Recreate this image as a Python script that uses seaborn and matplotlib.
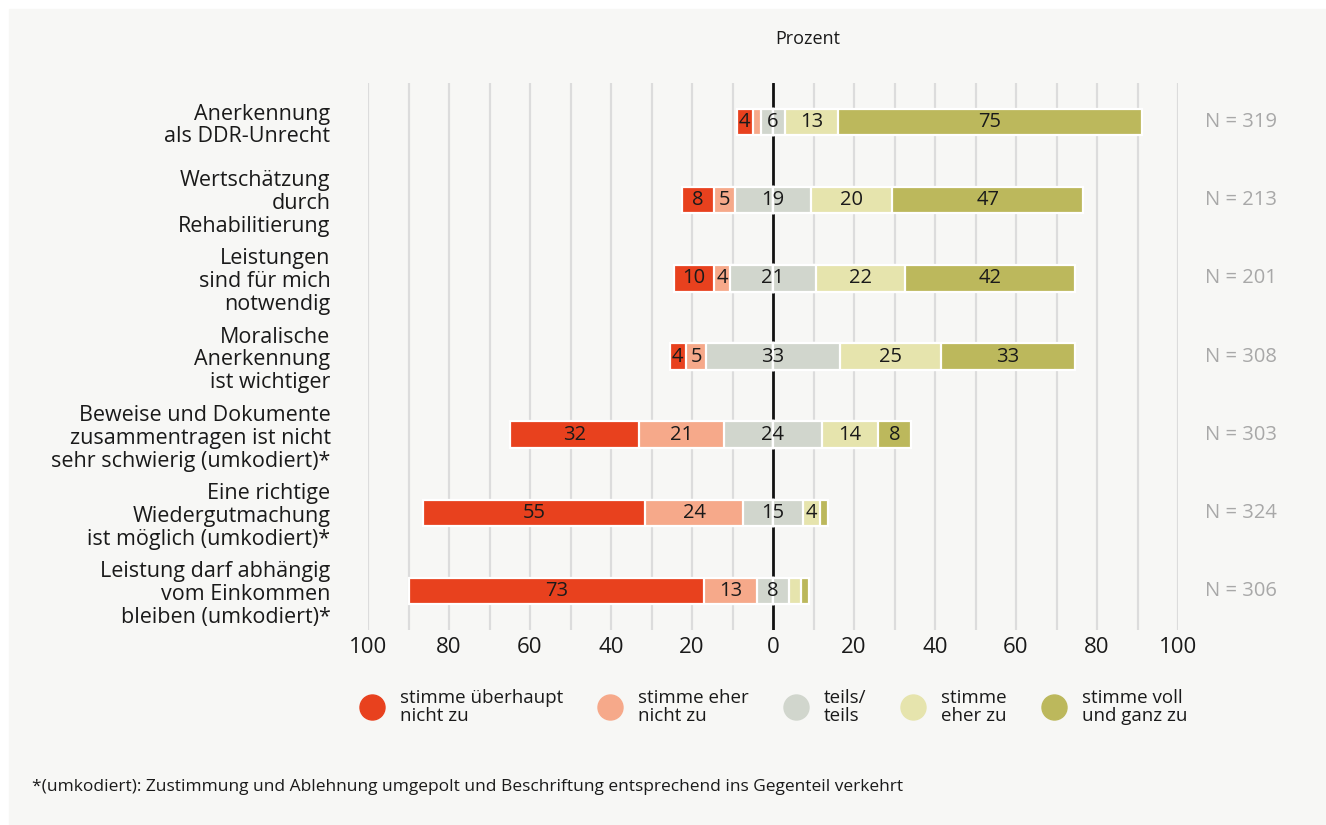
import numpy as np
import pandas as pd
import seaborn as sns
import matplotlib.pyplot as plt
from matplotlib.lines import Line2D
from matplotlib.patches import Rectangle

categories = [
    "Anerkennung\nals DDR-Unrecht",
    "Wertschätzung\ndurch\nRehabilitierung",
    "Leistungen\nsind für mich\nnotwendig",
    "Moralische\nAnerkennung\nist wichtiger",
    "Beweise und Dokumente\nzusammentragen ist nicht\nsehr schwierig (umkodiert)*",
    "Eine richtige\nWiedergutmachung\nist möglich (umkodiert)*",
    "Leistung darf abhängig\nvom Einkommen\nbleiben (umkodiert)*",
]
stimme_ueberhaupt_nicht = [4, 8, 10, 4, 32, 55, 73]
stimme_eher_nicht = [2, 5, 4, 5, 21, 24, 13]
teils_teils = [6, 19, 21, 33, 24, 15, 8]
stimme_eher_zu = [13, 20, 22, 25, 14, 4, 3]
stimme_voll = [75, 47, 42, 33, 8, 2, 2]
n_labels = ["N = 319", "N = 213", "N = 201", "N = 308", "N = 303", "N = 324", "N = 306"]
xticks = [-100, -80, -60, -40, -20, 0, 20, 40, 60, 80, 100]
xticklabels = ["100", "80", "60", "40", "20", "0", "20", "40", "60", "80", "100"]
legend_labels = ["stimme überhaupt\nnicht zu", "stimme eher\nnicht zu", "teils/\nteils",
                 "stimme\neher zu", "stimme voll\nund ganz zu"]
colors = ["#e8411e", "#f6a98a", "#d1d6cd", "#e6e4ad", "#bcb85c"]

sns.set_theme(style="white")
plt.rcParams["font.family"] = ["Open Sans", "DejaVu Sans"]
BG = "#f7f7f5"
TXT = "#1a1a1a"

fig = plt.figure(figsize=(13.26, 8.25), dpi=100)
fig.patch.set_facecolor("white")
fig.patches.append(Rectangle((9 / 1326, 0), 1 - 9 / 1326, 1 - 9 / 825,
                             transform=fig.transFigure, color=BG, zorder=-10))
ax = fig.add_axes([368 / 1326, 1 - 630 / 825, 810 / 1326, 547 / 825])
ax.set_facecolor(BG)

df = pd.DataFrame({
    "cat": categories,
    "r": stimme_ueberhaupt_nicht, "p": stimme_eher_nicht, "n": teils_teils,
    "y": stimme_eher_zu, "g": stimme_voll,
})
half = df["n"] / 2
layers = [
    (-(half + df["p"] + df["r"]), colors[0]),
    (-(half + df["p"]), colors[1]),
    (-half, colors[2]),
    (half + df["y"] + df["g"], colors[4]),
    (half + df["y"], colors[3]),
    (half, colors[2]),
]
for vals, col in layers:
    sns.barplot(x=vals.values, y=df["cat"], color=col, orient="h", width=0.34,
                edgecolor="white", linewidth=1.6, ax=ax, zorder=3, saturation=1)

# segment labels
for i in range(len(df)):
    segs = [
        (-(half[i] + df["p"][i] + df["r"][i] / 2), df["r"][i]),
        (-(half[i] + df["p"][i] / 2), df["p"][i]),
        (0, df["n"][i]),
        (half[i] + df["y"][i] / 2, df["y"][i]),
        (half[i] + df["y"][i] + df["g"][i] / 2, df["g"][i]),
    ]
    for xc, v in segs:
        if v >= 4:
            ax.text(xc, i, str(v), ha="center", va="center", fontsize=14.5,
                    color=TXT, zorder=5)
    ax.annotate(n_labels[i], xy=(1, i), xycoords=("axes fraction", "data"),
                xytext=(27, 0), textcoords="offset pixels", ha="left", va="center",
                fontsize=14.5, color="#a8a8a8")

for xv in range(-100, 101, 10):
    if xv != 0:
        ax.axvline(xv, color="#dcdcdc", lw=1.6, zorder=0)
ax.axvline(0, color="#111111", lw=2, zorder=1)

ax.set_xlim(-100, 100)
ax.set_ylim(6.5, -0.5)
ax.set_xticks(xticks)
ax.set_xticklabels(xticklabels, fontsize=16, color=TXT)
ax.tick_params(axis="x", length=0, pad=5)
ax.tick_params(axis="y", length=0, pad=27)
ax.set_yticks(range(len(categories)))
ax.set_yticklabels(categories, fontsize=15.5, color=TXT, linespacing=1.12)
ax.set_xlabel("")
ax.set_ylabel("")
sns.despine(ax=ax, left=True, bottom=True)

fig.text(808 / 1326, 1 - 39 / 825, "Prozent", ha="center", va="center",
         fontsize=13, color=TXT)

handles = [Line2D([0], [0], marker="o", linestyle="none", markersize=18,
                  markerfacecolor=c, markeredgecolor=c) for c in colors]
leg = fig.legend(handles, legend_labels, loc="center", ncol=5,
                 bbox_to_anchor=(770 / 1326, 1 - 707 / 825), frameon=False,
                 fontsize=13.5, handletextpad=0.5, columnspacing=1.5,
                 labelspacing=0.2)
for t in leg.get_texts():
    t.set_color(TXT)
    t.set_linespacing(1.05)

fig.text(32 / 1326, 1 - 787 / 825,
         "*(umkodiert): Zustimmung und Ablehnung umgepolt und Beschriftung entsprechend ins Gegenteil verkehrt",
         ha="left", va="center", fontsize=12.5, color=TXT)

fig.savefig("out.png", dpi=100, facecolor=fig.get_facecolor())
